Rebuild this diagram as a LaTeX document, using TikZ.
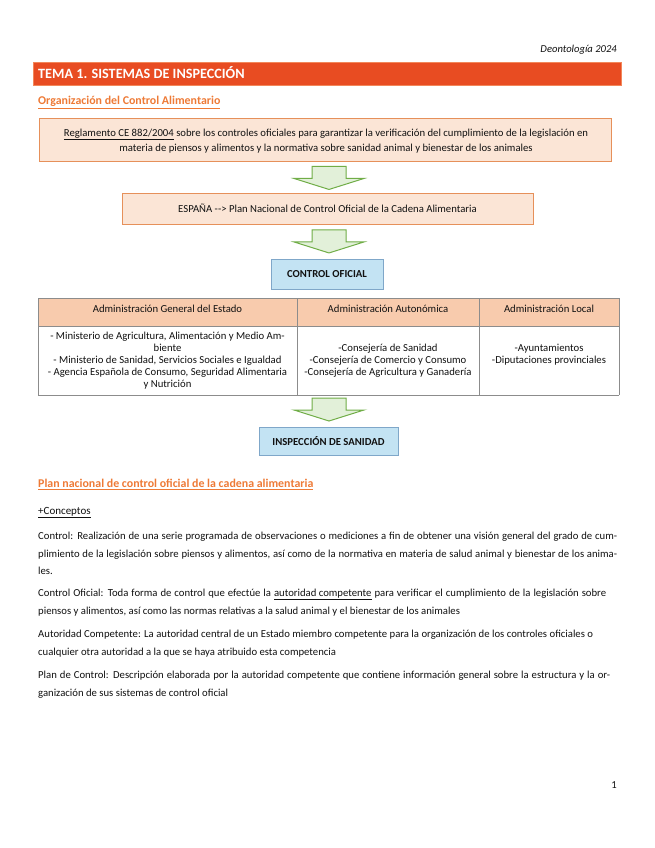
\documentclass[tikz,border=0pt]{standalone}
\usepackage{fontspec}
\setmainfont{Carlito}
\usetikzlibrary{calc}
\definecolor{hdr}{HTML}{E84C22}
\definecolor{hdrline}{HTML}{F2875A}
\definecolor{orng}{HTML}{EE7A36}
\definecolor{peach}{HTML}{FBE5D6}
\definecolor{peachb}{HTML}{E6905A}
\definecolor{grfill}{HTML}{E2F0D9}
\definecolor{grline}{HTML}{70AD47}
\definecolor{blfill}{HTML}{C3E3F3}
\definecolor{blline}{HTML}{7FA7C9}
\definecolor{thfill}{HTML}{F8CBAD}
\definecolor{tline}{HTML}{8C8C8C}
\definecolor{txt}{HTML}{111111}
\begin{document}
\begin{tikzpicture}[x=1pt,y=-1pt,
  every node/.style={inner sep=0pt, text=txt},
  small/.style={font=\fontsize{10.7}{12}\selectfont},
  body/.style={font=\fontsize{10.7}{12}\selectfont, anchor=base west},
  peachbox/.style={draw=peachb, fill=peach, line width=0.9pt},
  bluebox/.style={draw=blline, fill=blfill, line width=0.9pt, font=\fontsize{10.7}{12}\selectfont\bfseries},
  garrow/.style={draw=grline, fill=grfill, line width=1pt, line join=miter},
  blockarrow/.pic={\draw[garrow] (-17,0) -- (-17,12) -- (-35,12) -- (0,23) -- (35,12) -- (17,12) -- (17,0) -- cycle;},
  heading/.style={font=\fontsize{11.9}{13}\selectfont\bfseries, text=orng, anchor=base west},
  tline/.style={draw=tline, line width=0.8pt}
]
\useasboundingbox (0,0) rectangle (655,848);
\fill[white] (0,0) rectangle (655,848);

% page header
\node[anchor=base east, font=\fontsize{10.6}{12}\selectfont\itshape] (deon) at (617,53) {Deontología 2024};
\node[draw=hdrline, fill=hdr, line width=0.9pt, minimum width=588, minimum height=23, anchor=north west] (bar) at (33,62) {};
\node[anchor=base west, font=\fontsize{14.2}{16}\selectfont\bfseries, text=white] (tema) at (38,79) {TEMA 1. SISTEMAS DE INSPECCIÓN};
\node[heading] (org) at (38,104.5) {\underline{Organización del Control Alimentario}};

% flow boxes
\node[peachbox, minimum width=572, minimum height=43] (b1) at (325,139.5) {};
\node[font=\fontsize{10.7}{15}\selectfont, align=center] (b1t) at (326,141) {\underline{Reglamento CE 882/2004} sobre los controles oficiales para garantizar la verificación del cumplimiento de la legislación en\\ materia de piensos y alimentos y la normativa sobre sanidad animal y bienestar de los animales};
\pic at ($(b1.south)+(4,5)$) {blockarrow};
\node[peachbox, minimum width=411, minimum height=31, small] (b2) at (327.5,208.5) {ESPAÑA {-}{-}> Plan Nacional de Control Oficial de la Cadena Alimentaria};
\pic at ($(b2.south)+(1.5,5.5)$) {blockarrow};
\node[bluebox, minimum width=112, minimum height=30] (b3) at (327,274) {CONTROL OFICIAL};

% table
\fill[thfill] (38,298) rectangle (619,326);
\draw[tline] (38,298) -- (619,298);
\draw[tline] (38,326) -- (619,326);
\draw[tline] (38,395) -- (619,395);
\draw[tline] (38,298) -- (38,395);
\draw[tline] (297,298) -- (297,395);
\draw[tline] (479,298) -- (479,395);
\draw[tline] (619,298) -- (619,395);
\node[small] (h1) at (167.5,309) {Administración General del Estado};
\node[small] (h2) at (388,309) {Administración Autonómica};
\node[small] (h3) at (549,309) {Administración Local};
\node[small, align=center] (c1) at (167.5,360.5) {- Ministerio de Agricultura, Alimentación y Medio Am-\\biente\\- Ministerio de Sanidad, Servicios Sociales e Igualdad\\- Agencia Española de Consumo, Seguridad Alimentaria\\y Nutrición};
\node[small, align=center] (c2) at (388,360.5) {-Consejería de Sanidad\\-Consejería de Comercio y Consumo\\-Consejería de Agricultura y Ganadería};
\node[small, align=center] (c3) at (549,354.5) {-Ayuntamientos\\-Diputaciones provinciales};

\coordinate (tb) at (329,398);
\pic at (tb) {blockarrow};
\node[bluebox, minimum width=139, minimum height=28] (b4) at (328.5,441) {INSPECCIÓN DE SANIDAD};

% second section
\node[heading] (plan) at (38,487.5) {\underline{Plan nacional de control oficial de la cadena alimentaria}};
\node[body, font=\fontsize{11}{12}\selectfont] (conc) at (38,514.5) {\underline{+Conceptos}};

\node[body] (p1a) at (38,539.5) {\makebox[579pt][s]{Control: Realización de una serie programada de observaciones o mediciones a fin de obtener una visión general del grado de cum-}};
\node[body] (p1b) at (38,557) {\makebox[579pt][s]{plimiento de la legislación sobre piensos y alimentos, así como de la normativa en materia de salud animal y bienestar de los anima-}};
\node[body] (p1c) at (38,574.5) {les.};

\node[body] (p2a) at (38,596.5) {\makebox[568pt][s]{Control Oficial: Toda forma de control que efectúe la \underline{autoridad competente} para verificar el cumplimiento de la legislación sobre}};
\node[body] (p2b) at (38,614) {piensos y alimentos, así como las normas relativas a la salud animal y el bienestar de los animales};

\node[body] (p3a) at (38,637.5) {\makebox[555pt][s]{Autoridad Competente: La autoridad central de un Estado miembro competente para la organización de los controles oficiales o}};
\node[body] (p3b) at (38,655) {cualquier otra autoridad a la que se haya atribuido esta competencia};

\node[body] (p4a) at (38,678.5) {\makebox[572pt][s]{Plan de Control: Descripción elaborada por la autoridad competente que contiene información general sobre la estructura y la or-}};
\node[body] (p4b) at (38,696) {ganización de sus sistemas de control oficial};

\node[anchor=base east, font=\fontsize{10.7}{12}\selectfont] (pg) at (617,788.5) {1};
\end{tikzpicture}
\end{document}
